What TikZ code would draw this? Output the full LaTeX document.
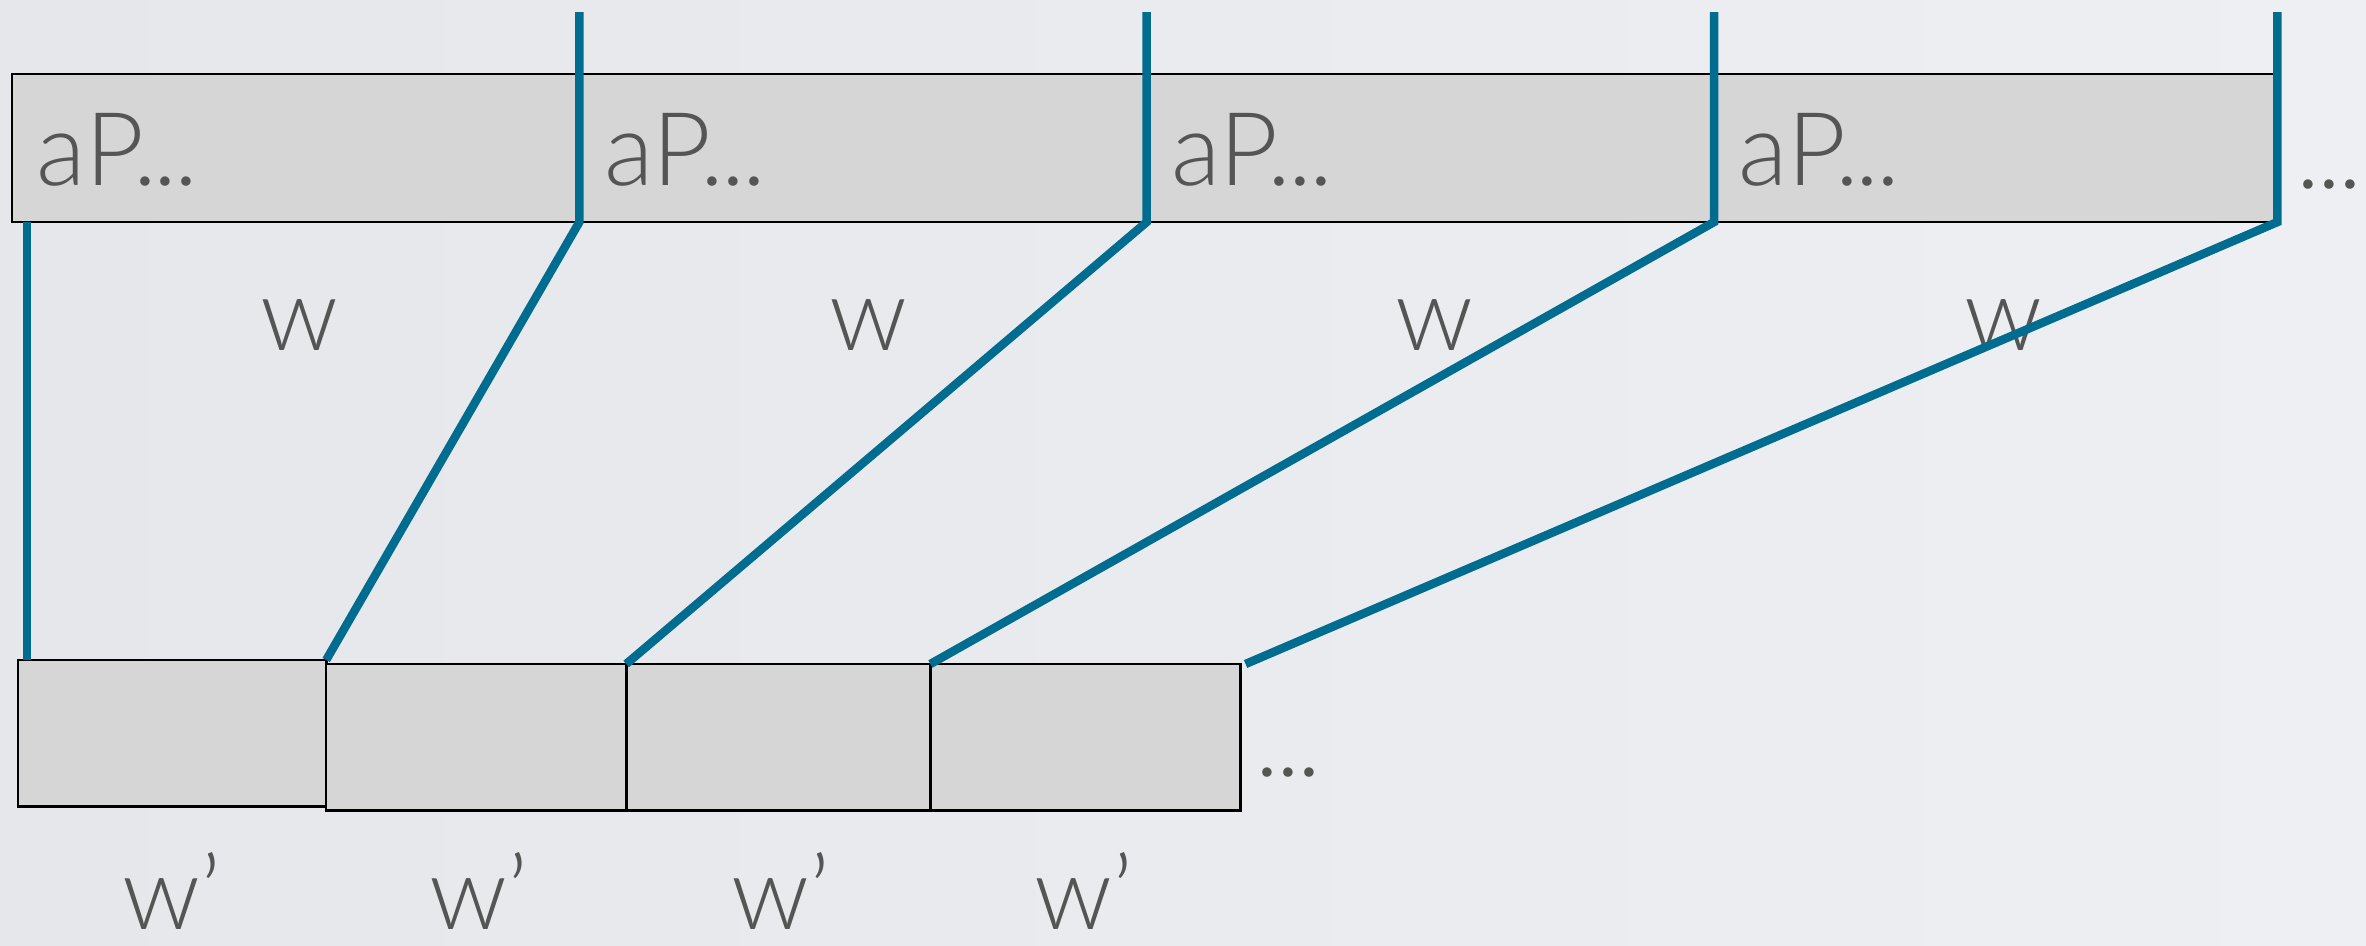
\documentclass[tikz,border=0pt]{standalone}
\usepackage{fontspec}
\setmainfont{Lato Light}
\usetikzlibrary{calc}

\definecolor{wireblue}{RGB}{0,108,143}
\definecolor{cellgray}{RGB}{214,214,214}
\definecolor{txtgray}{RGB}{85,85,85}
\definecolor{bgleft}{RGB}{229,231,235}
\definecolor{bgright}{RGB}{238,239,242}

\newcommand{\tightdots}{.\kern-0.03em.\kern-0.03em.}

\tikzset{
  topcell/.style={draw=black, line width=0.6pt, fill=cellgray, minimum width=5.67cm,
    minimum height=1.48cm, inner sep=0pt, outer sep=0pt, anchor=north west},
  botcell/.style={draw=black, line width=0.8pt, fill=cellgray, minimum height=1.46cm,
    inner sep=0pt, outer sep=0pt, anchor=north west},
  lbl/.style={text=txtgray, inner sep=0pt},
  wire/.style={draw=wireblue, line width=0.085cm}
}

\begin{document}
\begin{tikzpicture}[x=0.01cm, y=-0.01cm, font=\fontsize{29}{34}\selectfont]
\shade[left color=bgleft, right color=bgright] (0,0) rectangle (2366,945);
\useasboundingbox (0,0) rectangle (2366,945);

% upper row
\node[topcell] (t1) at (12,74) {};
\node[topcell] (t2) at (t1.north east) {};
\node[topcell] (t3) at (t2.north east) {};
\node[topcell, minimum width=5.63cm] (t4) at (t3.north east) {};
\node[lbl, anchor=base west] (p1) at ($(t1.north west)+(24,111)$) {aP\tightdots};
\node[lbl, anchor=base west] (p2) at ($(t2.north west)+(24,111)$) {aP\tightdots};
\node[lbl, anchor=base west] (p3) at ($(t3.north west)+(24,111)$) {aP\tightdots};
\node[lbl, anchor=base west] (p4) at ($(t4.north west)+(24,111)$) {aP\tightdots};
\node[lbl, anchor=base west] (more1) at (2296,188) {\tightdots};

% lower row
\node[botcell, minimum width=3.08cm] (b1) at (18,660) {};
\node[botcell, minimum width=3.00cm] (b2) at (326,664) {};
\node[botcell, minimum width=3.04cm] (b3) at (b2.north east) {};
\node[botcell, minimum width=3.10cm] (b4) at (b3.north east) {};
\node[lbl, anchor=base west] (more2) at (1255,776) {\tightdots};

% widths
\node[lbl] (w1) at (299,325) {w};
\node[lbl] (w2) at (868,325) {w};
\node[lbl] (w3) at (1434,325) {w};
\node[lbl] (w4) at (2003,325) {w};
\node[lbl, anchor=base] (v1) at (172,929) {w'};
\node[lbl, anchor=base] (v2) at (479,929) {w'};
\node[lbl, anchor=base] (v3) at (781,929) {w'};
\node[lbl, anchor=base] (v4) at (1084,929) {w'};

% blue wires
\coordinate (top1) at (t1.south east |- 0,12);
\coordinate (top2) at (t2.south east |- 0,12);
\coordinate (top3) at (t3.south east |- 0,12);
\coordinate (top4) at (t4.south east |- 0,12);
\draw[wire] ($(t1.south west)+(15,0)$) -- ($(b1.north west)+(9,0)$);
\draw[wire] (top1) -- (t1.south east) -- (b1.north east);
\draw[wire] (top2) -- (t2.south east) -- (b2.north east);
\draw[wire] (top3) -- (t3.south east) -- (b3.north east);
\draw[wire] (top4) -- (t4.south east) -- ($(b4.north east)+(5,0)$);
\end{tikzpicture}
\end{document}
